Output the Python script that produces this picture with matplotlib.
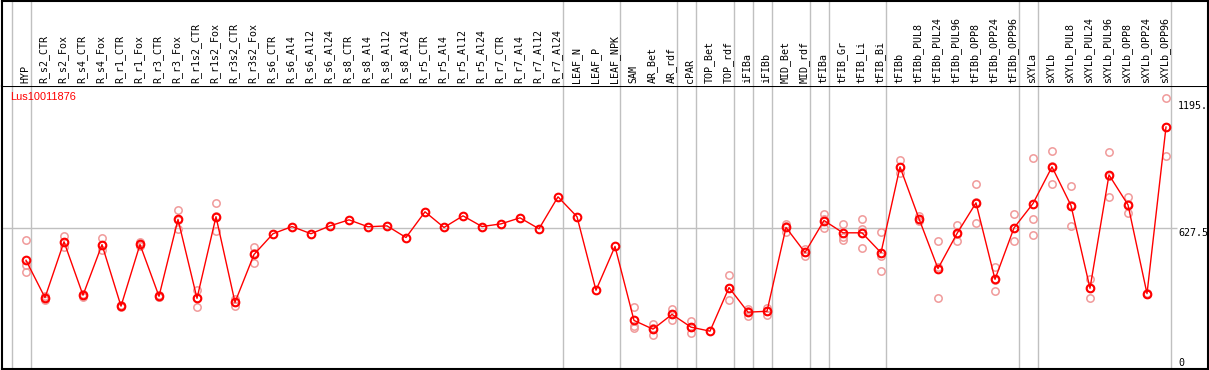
import numpy as np
import matplotlib
matplotlib.use("Agg")
import matplotlib.pyplot as plt

gene = "Lus10011876"

samples = ["HYP", "R_s2_CTR", "R_s2_Fox", "R_s4_CTR", "R_s4_Fox", "R_r1_CTR", "R_r1_Fox",
           "R_r3_CTR", "R_r3_Fox", "R_r1s2_CTR", "R_r1s2_Fox", "R_r3s2_CTR", "R_r3s2_Fox",
           "R_s6_CTR", "R_s6_Al4", "R_s6_Al12", "R_s6_Al24", "R_s8_CTR", "R_s8_Al4",
           "R_s8_Al12", "R_s8_Al24", "R_r5_CTR", "R_r5_Al4", "R_r5_Al12", "R_r5_Al24",
           "R_r7_CTR", "R_r7_Al4", "R_r7_Al12", "R_r7_Al24", "LEAF_N", "LEAF_P", "LEAF_NPK",
           "SAM", "AR_Bet", "AR_rdf", "cPAR", "TOP_Bet", "TOP_rdf", "iFIBa", "iFIBb",
           "MID_Bet", "MID_rdf", "tFIBa", "tFIB_Gr", "tFIB_Li", "tFIB_Bi", "tFIBb",
           "tFIBb_PUL8", "tFIBb_PUL24", "tFIBb_PUL96", "tFIBb_OPP8", "tFIBb_OPP24",
           "tFIBb_OPP96", "sXYLa", "sXYLb", "sXYLb_PUL8", "sXYLb_PUL24", "sXYLb_PUL96",
           "sXYLb_OPP8", "sXYLb_OPP24", "sXYLb_OPP96"]

# mean expression per sample
means = [482, 315, 565, 326, 552, 277, 553, 321, 665, 312, 677, 294, 508,
         601, 633, 601, 636, 663, 632, 636, 584, 699, 629, 681, 633, 645, 672, 623, 766,
         677, 348, 544,
         213, 174, 240, 183, 165, 360, 250, 254, 629, 517, 660, 605, 605, 516,
         900, 668, 445, 602, 739, 397, 627,
         736, 900, 727, 357, 864, 730, 333, 1078]

# replicate values (empty = single sample)
reps = [[575, 459, 431], [305, 318, 322], [590, 565, 543], [320, 326, 332],
        [581, 549, 526], [282, 271, 277], [563, 550, 546], [329, 318, 316],
        [709, 663, 623], [349, 312, 275], [740, 679, 612], [308, 296, 278],
        [540, 513, 471],
        [], [], [], [], [], [], [], [], [], [], [], [], [], [], [], [],
        [], [], [],
        [271, 189, 178], [196, 177, 149], [263, 242, 215], [210, 184, 155], [],
        [415, 359, 306], [263, 254, 233], [268, 256, 238], [644, 635, 608],
        [531, 519, 501], [687, 667, 626], [645, 587, 574], [669, 620, 535],
        [610, 501, 436],
        [929, 898, 873], [679, 668, 657], [568, 452, 315], [638, 600, 568],
        [824, 743, 650], [454, 394, 343], [687, 626, 568],
        [940, 665, 593], [972, 904, 824], [815, 731, 635], [397, 359, 315],
        [968, 858, 766], [764, 732, 694], [333, 330, 336], [1207, 1078, 949]]

# number of samples in each separated group
group_sizes = [1, 28, 3, 3, 1, 2, 1, 1, 2, 1, 3, 7, 1, 7]

ref_value = 627.5
max_label = "1195."

W, H = 1209, 370
fig = plt.figure(figsize=(W / 100, H / 100), dpi=100)

x = np.arange(len(samples))
xlim = ((1.5 - 26) / 19, (1207.5 - 26) / 19)

ax = fig.add_axes([1.5 / W, 1.5 / H, 1206 / W, 283 / H])
lab = fig.add_axes([1.5 / W, 284.5 / H, 1206 / W, 84.5 / H])

for a in (ax, lab):
    a.set_xlim(*xlim)
    a.set_xticks([])
    a.set_yticks([])
    for s in a.spines.values():
        s.set_linewidth(1.5)
        s.set_color("black")
lab.spines["bottom"].set_visible(False)
lab.set_ylim(0, 1)
ax.set_ylim(-2, 1264)

# group separators
bounds = np.concatenate([[-1], np.cumsum(group_sizes) - 1]) + 0.24
for b in bounds:
    ax.axvline(b, color="#c0c0c0", lw=1, zorder=0)
    lab.axvline(b, color="#c0c0c0", lw=1, zorder=0)

ax.hlines(ref_value, xlim[0], (1177 - 26) / 19, color="#c0c0c0", lw=1, zorder=0)

for i, r in enumerate(reps):
    if r:
        ax.plot([i] * len(r), r, "o", ms=5.3, mfc="none", mec="#f09a9a", mew=1.1, zorder=2)

ax.plot(x, means, "-", color="red", lw=1, zorder=3)
ax.plot(x, means, "o", ms=5.5, mfc="none", mec="red", mew=1.5, zorder=4)

for i, s in enumerate(samples):
    lab.text(i - 0.05, 0.03, s, rotation=90, ha="center", va="bottom",
             family="DejaVu Sans Mono", fontsize=7.2)

ax.text(8.5 / 1206, (368.5 - 97) / 283, gene, color="red", fontsize=7.9,
        family="Liberation Sans", ha="left", va="center", transform=ax.transAxes)

xr = (1178 - 26) / 19
ax.text(xr, 1195, max_label, ha="left", va="top", family="DejaVu Sans Mono", fontsize=7.2)
ax.text(xr, ref_value, "627.5", ha="left", va="top", family="DejaVu Sans Mono", fontsize=7.2)
ax.text(xr, 0, "0", ha="left", va="bottom", family="DejaVu Sans Mono", fontsize=7.2)

fig.savefig("out.png", dpi=100)
